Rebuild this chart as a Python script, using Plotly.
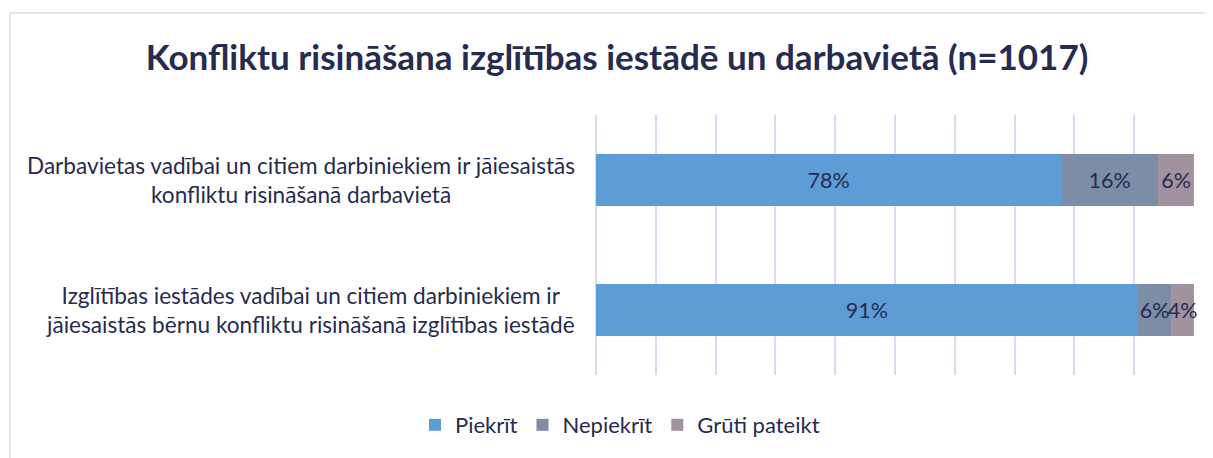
import plotly.graph_objects as go

categories = [
    "Izglītības iestādes vadībai un citiem darbiniekiem ir<br>jāiesaistās bērnu konfliktu risināšanā izglītības iestādē",
    "Darbavietas vadībai un citiem darbiniekiem ir jāiesaistās<br>konfliktu risināšanā darbavietā",
]
series_names = ["Piekrīt", "Nepiekrīt", "Grūti pateikt"]
piekrit = [90.6, 77.8]
nepiekrit = [5.6, 16.2]
gruti = [3.8, 6.0]
labels_piekrit = ["91%", "78%"]
labels_nepiekrit = ["6%", "16%"]
labels_gruti = ["4%", "6%"]
title_text = "Konfliktu risināšana izglītības iestādē un darbavietā (n=1017)"

colors = ["#5e9cd6", "#7d8ca7", "#a2919f"]
txt = "#262b50"
FONT = "Lato"

OFF = 8  # page body margin
W, H = 1213 - OFF, 458 - OFF
L, R, T, B = 596 - OFF, 1194 - OFF, 115 - OFF, 375 - OFF

fig = go.Figure()
for name, vals, labs, col in zip(series_names, [piekrit, nepiekrit, gruti],
                                 [labels_piekrit, labels_nepiekrit, labels_gruti], colors):
    fig.add_trace(go.Bar(
        y=list(range(len(categories))), x=vals, name=name, orientation="h",
        marker=dict(color=col, line=dict(width=0)),
        text=labs, textposition="inside", insidetextanchor="middle", textangle=0,
        textfont=dict(family=FONT, size=21.5, color=txt),
        constraintext="none", cliponaxis=False, hoverinfo="skip",
    ))

def px_x(p):
    return (p - OFF - L) / (R - L)

def px_y(p):
    return (B - (p - OFF)) / (B - T)

for i, cat in enumerate(categories):
    fig.add_annotation(
        x=px_x(577), xref="paper", y=i, yref="y",
        text=cat, showarrow=False, xanchor="right", yanchor="middle", align="center",
        font=dict(family=FONT, size=22.6, color=txt),
    )

fig.add_shape(type="rect", xref="paper", yref="paper",
              x0=px_x(10), x1=px_x(1240), y0=px_y(480), y1=px_y(13),
              line=dict(color="#d9d9f0", width=1.5), layer="below")

fig.update_layout(
    width=W, height=H,
    margin=dict(l=L, r=W - R, t=T, b=H - B),
    paper_bgcolor="white", plot_bgcolor="white",
    barmode="stack", bargap=0.6,
    title=dict(text="<b>" + title_text + "</b>", x=(617 - OFF) / W, xanchor="center",
               y=1 - (58 - OFF) / H, yanchor="middle",
               font=dict(family=FONT, size=35, color=txt)),
    xaxis=dict(range=[0, 100], dtick=10, showgrid=True, gridcolor="#d9d9f0", gridwidth=1.5,
               showticklabels=False, zeroline=True, zerolinecolor="#d9d9f0", zerolinewidth=1.5,
               showline=False, ticks=""),
    yaxis=dict(range=[-0.5, 1.5], showticklabels=False, showgrid=False, zeroline=False,
               showline=False, ticks=""),
    legend=dict(orientation="h", x=px_x(620), xanchor="center", y=px_y(425), yanchor="middle",
                font=dict(family=FONT, size=22, color=txt), traceorder="normal"),
    showlegend=True,
)
fig.write_html("out.html")
